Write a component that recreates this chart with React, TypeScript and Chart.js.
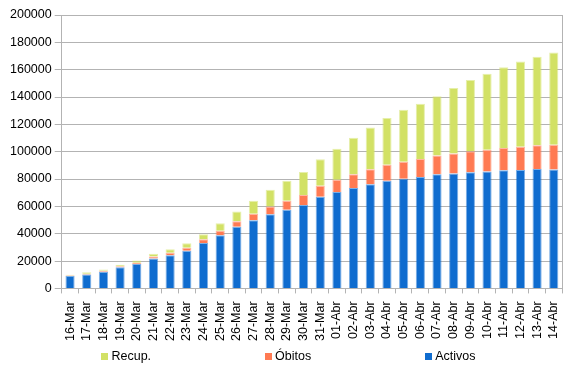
import React, { useEffect, useRef } from "react";
import { Chart, registerables } from "chart.js";

Chart.register(...registerables);

const categories = [
  "16-Mar", "17-Mar", "18-Mar", "19-Mar", "20-Mar", "21-Mar", "22-Mar", "23-Mar",
  "24-Mar", "25-Mar", "26-Mar", "27-Mar", "28-Mar", "29-Mar", "30-Mar", "31-Mar",
  "01-Abr", "02-Abr", "03-Abr", "04-Abr", "05-Abr", "06-Abr", "07-Abr", "08-Abr",
  "09-Abr", "10-Abr", "11-Abr", "12-Abr", "13-Abr", "14-Abr",
];

const activos = [
  9070, 10187, 12206, 15400, 17779, 21874, 24225, 27552, 33183, 38809, 45084, 49844,
  54273, 57560, 61075, 66969, 70436, 73492, 76262, 78773, 80261, 81540, 83504, 84114,
  85043, 85511, 86390, 86656, 87280, 86981,
];

const obitos = [
  342, 533, 623, 830, 1043, 1375, 1772, 2182, 2696, 3434, 4089, 4858, 5690, 6528, 7340,
  8189, 9053, 10003, 10935, 11744, 12418, 13055, 13798, 14555, 15238, 15843, 16353,
  16972, 17489, 18056,
];

const recup = [
  530, 1028, 1081, 1107, 1588, 2125, 2575, 3355, 3794, 5367, 7015, 9357, 12285, 14709,
  16780, 19259, 22647, 26743, 30513, 34219, 38080, 40437, 43208, 48021, 52165, 55668,
  59109, 62391, 64727, 67504,
];

const seriesNames = ["Activos", "Óbitos", "Recup."];
const seriesColors = ["#0f6ccf", "#ff7a52", "#d2e165"];
const seriesBorders = ["rgba(15,108,207,0.55)", "rgba(255,122,82,0.55)", "rgba(210,225,101,0.55)"];

const yMax = 200000;
const yStep = 20000;

const FONT = "'Liberation Sans', Arial, sans-serif";
const GRID = "#b3b3b3";

const rightBorder = {
  id: "rightBorder",
  afterDraw(chart: any) {
    const { ctx, chartArea } = chart;
    ctx.save();
    ctx.strokeStyle = GRID;
    ctx.lineWidth = 1;
    const x = Math.round(chartArea.right) + 0.5;
    ctx.beginPath();
    ctx.moveTo(x, chartArea.top);
    ctx.lineTo(x, chartArea.bottom);
    ctx.stroke();
    ctx.restore();
  },
};

export default function App() {
  const ref = useRef<HTMLCanvasElement>(null);

  useEffect(() => {
    if (!ref.current) return;
    const values = [activos, obitos, recup];
    const chart = new Chart(ref.current, {
      type: "bar",
      data: {
        labels: categories,
        datasets: values.map((d, i) => ({
          label: seriesNames[i],
          data: d,
          backgroundColor: seriesColors[i],
          borderColor: seriesBorders[i],
          borderWidth: 1,
          barPercentage: 0.55,
          categoryPercentage: 1,
        })),
      },
      options: {
        animation: false,
        responsive: false,
        devicePixelRatio: 1,
        layout: { padding: { top: 15, right: 14, left: 7, bottom: 19 } },
        plugins: {
          legend: { display: false },
          tooltip: { enabled: false },
        },
        scales: {
          x: {
            stacked: true,
            grid: {
              display: true,
              drawOnChartArea: false,
              drawTicks: true,
              tickLength: 5,
              color: GRID,
              offset: true,
            },
            border: { color: GRID },
            ticks: {
              autoSkip: false,
              minRotation: 90,
              maxRotation: 90,
              padding: 8,
              color: "#000",
              font: { family: FONT, size: 12.5 },
            },
          },
          y: {
            stacked: true,
            min: 0,
            max: yMax,
            grid: { color: GRID, tickLength: 7 },
            border: { color: GRID },
            ticks: {
              stepSize: yStep,
              padding: 3,
              color: "#000",
              font: { family: FONT, size: 12.5 },
              callback: (v: any) => String(v),
            },
          },
        },
      },
      plugins: [rightBorder],
    });
    return () => chart.destroy();
  }, []);

  const legendOrder = [2, 1, 0];

  return (
    <div
      style={{
        position: "fixed",
        left: 0,
        top: 0,
        width: 577,
        height: 368,
        background: "#fff",
      }}
    >
      <canvas ref={ref} width={577} height={368} style={{ display: "block" }} />
      <div
        style={{
          position: "absolute",
          left: 0,
          top: 349,
          width: 577,
          display: "flex",
          justifyContent: "center",
          gap: 114,
          fontFamily: FONT,
          fontSize: 12.5,
          lineHeight: "14px",
          color: "#000",
        }}
      >
        {legendOrder.map((i) => (
          <div key={i} style={{ display: "flex", alignItems: "center" }}>
            <span
              style={{
                display: "inline-block",
                width: 7,
                height: 7,
                background: seriesColors[i],
                marginRight: 3,
              }}
            />
            <span>{seriesNames[i]}</span>
          </div>
        ))}
      </div>
    </div>
  );
}
